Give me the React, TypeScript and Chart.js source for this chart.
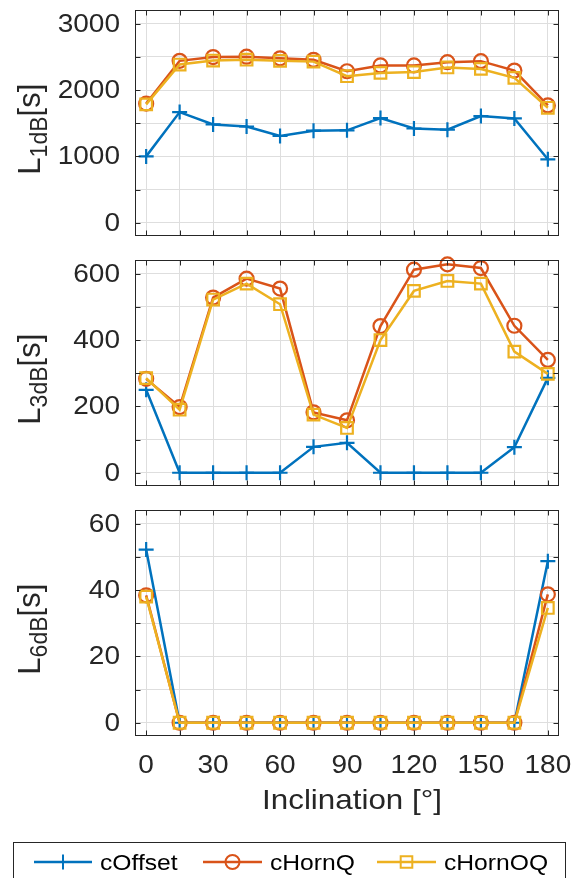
import React, { useEffect, useRef } from 'react';
import { Chart, registerables } from 'chart.js';

Chart.register(...registerables);

// Inclination angles (degrees) shared by all three panels
const inclination = [0, 15, 30, 45, 60, 75, 90, 105, 120, 135, 150, 165, 180];
const xTickLabels = [0, 30, 60, 90, 120, 150, 180];
const seriesNames = ['cOffset', 'cHornQ', 'cHornOQ'];

// L_1dB [s]
const l1dbOffset = [1000, 1667, 1482, 1450, 1307, 1387, 1392, 1577, 1420, 1402, 1607, 1572, 956];
const l1dbHornQ = [1795, 2440, 2497, 2502, 2478, 2455, 2283, 2370, 2370, 2420, 2435, 2293, 1768];
const l1dbHornOQ = [1783, 2384, 2444, 2457, 2440, 2428, 2208, 2258, 2270, 2340, 2318, 2183, 1732];
const l1dbTicks = [0, 1000, 2000, 3000];

// L_3dB [s]
const l3dbOffset = [250, 0, 0, 0, 0, 78, 90, 0, 0, 0, 0, 77, 286];
const l3dbHornQ = [283, 198, 528, 585, 555, 182, 158, 442, 612, 628, 617, 443, 340];
const l3dbHornOQ = [285, 190, 522, 570, 508, 175, 135, 400, 548, 578, 570, 365, 298];
const l3dbTicks = [0, 200, 400, 600];

// L_6dB [s]
const l6dbOffset = [52.2, 0, 0, 0, 0, 0, 0, 0, 0, 0, 0, 0, 48.7];
const l6dbHornQ = [38.4, 0, 0, 0, 0, 0, 0, 0, 0, 0, 0, 0, 38.7];
const l6dbHornOQ = [38.0, 0, 0, 0, 0, 0, 0, 0, 0, 0, 0, 0, 34.6];
const l6dbTicks = [0, 20, 40, 60];

const COLORS = ['#0072BD', '#D95319', '#EDB120'];
const AXIS = '#262626';
const GRID = '#dedede';
const FONT = '"Liberation Sans", Arial, Helvetica, sans-serif';
const SX = 1.12; // horizontal text stretch

type PanelDef = {
  top: number;
  height: number;
  series: number[][];
  min: number;
  max: number;
  step: number;
  labels: number[];
  sub: string;
  bottom: boolean;
};

const panels: PanelDef[] = [
  { top: 0, height: 250, series: [l1dbOffset, l1dbHornQ, l1dbHornOQ], min: -200, max: 3200, step: 500, labels: l1dbTicks, sub: '1dB', bottom: false },
  { top: 250, height: 250, series: [l3dbOffset, l3dbHornQ, l3dbHornOQ], min: -40, max: 640, step: 100, labels: l3dbTicks, sub: '3dB', bottom: false },
  { top: 500, height: 378, series: [l6dbOffset, l6dbHornQ, l6dbHornOQ], min: -4, max: 64, step: 10, labels: l6dbTicks, sub: '6dB', bottom: true },
];

const AREA_TOP = 8;
const AREA_H = 228;

// tick positions between 0 and the highest labelled value
function tickValues(last: number, step: number) {
  const out: { value: number }[] = [];
  for (let k = 0; k * step <= last + 1e-9; k++) out.push({ value: k * step });
  return out;
}

function text(ctx: CanvasRenderingContext2D, s: string, x: number, y: number, align: CanvasTextAlign, baseline: CanvasTextBaseline) {
  ctx.save();
  ctx.translate(x, y);
  ctx.scale(SX, 1);
  ctx.textAlign = align;
  ctx.textBaseline = baseline;
  ctx.fillText(s, 0, 0);
  ctx.restore();
}

function drawMarker(ctx: CanvasRenderingContext2D, kind: number, x: number, y: number) {
  ctx.beginPath();
  if (kind === 0) {
    ctx.moveTo(x - 7.5, y); ctx.lineTo(x + 7.5, y);
    ctx.moveTo(x, y - 7.5); ctx.lineTo(x, y + 7.5);
  } else if (kind === 1) {
    ctx.arc(x, y, 7, 0, Math.PI * 2);
  } else {
    ctx.rect(x - 5.8, y - 5.8, 11.6, 11.6);
  }
  ctx.stroke();
}

function makePlugin(p: PanelDef) {
  return {
    id: 'frame-' + p.sub,
    afterDraw(chart: any) {
      const { ctx, chartArea: a, scales } = chart;
      const xs = scales.x;
      const ys = scales.y;
      ctx.save();
      // axes box
      ctx.strokeStyle = AXIS;
      ctx.lineWidth = 1;
      const L = Math.round(a.left) + 0.5;
      const R = Math.round(a.right) - 0.5;
      const T = Math.round(a.top) + 0.5;
      const B = Math.round(a.bottom) - 0.5;
      ctx.strokeRect(L, T, R - L, B - T);
      // inward tick marks on all four sides
      ctx.beginPath();
      xs.ticks.forEach((t: any) => {
        const px = Math.round(xs.getPixelForValue(t.value)) + 0.5;
        ctx.moveTo(px, B); ctx.lineTo(px, B - 5);
        ctx.moveTo(px, T); ctx.lineTo(px, T + 5);
      });
      ys.ticks.forEach((t: any) => {
        const py = Math.round(ys.getPixelForValue(t.value)) + 0.5;
        ctx.moveTo(L, py); ctx.lineTo(L + 5, py);
        ctx.moveTo(R, py); ctx.lineTo(R - 5, py);
      });
      ctx.stroke();

      // tick labels
      ctx.fillStyle = AXIS;
      ctx.font = `25px ${FONT}`;
      ys.ticks.forEach((t: any) => {
        if (p.labels.includes(t.value)) {
          text(ctx, String(t.value), a.left - 15, ys.getPixelForValue(t.value) + 1, 'right', 'middle');
        }
      });
      if (p.bottom) {
        xs.ticks.forEach((t: any) => {
          if (xTickLabels.includes(t.value)) {
            text(ctx, String(t.value), xs.getPixelForValue(t.value), a.bottom + 37, 'center', 'alphabetic');
          }
        });
      }

      // y-axis label with subscript: L_{xdB}[s]
      const big = 31;
      const small = 23;
      ctx.textBaseline = 'alphabetic';
      ctx.textAlign = 'left';
      ctx.font = `${big}px ${FONT}`;
      const wL = ctx.measureText('L').width;
      const wS = ctx.measureText('[s]').width;
      ctx.font = `${small}px ${FONT}`;
      const wSub = ctx.measureText(p.sub).width;
      const total = wL + wSub + wS;
      ctx.save();
      ctx.translate(40, (a.top + a.bottom) / 2 + 6);
      ctx.rotate(-Math.PI / 2);
      let cx = -total / 2;
      ctx.font = `${big}px ${FONT}`;
      ctx.fillText('L', cx, 0);
      cx += wL;
      ctx.font = `${small}px ${FONT}`;
      ctx.fillText(p.sub, cx, 7);
      cx += wSub;
      ctx.font = `${big}px ${FONT}`;
      ctx.fillText('[s]', cx, 0);
      ctx.restore();

      if (p.bottom) {
        // x-axis title
        ctx.fillStyle = AXIS;
        ctx.font = `28px ${FONT}`;
        text(ctx, 'Inclination [°]', (a.left + a.right) / 2 + 5, 309, 'center', 'alphabetic');

        // legend box below the last panel
        const ly = 362;
        ctx.strokeStyle = AXIS;
        ctx.lineWidth = 1;
        ctx.strokeRect(13.5, 342.5, 552, 60);
        const entries = [
          { x0: 34, x1: 92, tx: 100 },
          { x0: 203, x1: 262, tx: 270 },
          { x0: 377, x1: 436, tx: 444 },
        ];
        ctx.font = `22px ${FONT}`;
        entries.forEach((e, i) => {
          ctx.strokeStyle = COLORS[i];
          ctx.lineWidth = 2.5;
          ctx.beginPath();
          ctx.moveTo(e.x0, ly); ctx.lineTo(e.x1, ly);
          ctx.stroke();
          ctx.lineWidth = 2;
          drawMarker(ctx, i, (e.x0 + e.x1) / 2, ly);
          ctx.fillStyle = '#000';
          text(ctx, seriesNames[i], e.tx, ly + 8, 'left', 'alphabetic');
        });
      }
      ctx.restore();
    },
  };
}

function buildConfig(p: PanelDef): any {
  const styles = [
    { pointStyle: 'cross', pointRadius: 7.5, order: 3 },
    { pointStyle: 'circle', pointRadius: 7, order: 2 },
    { pointStyle: 'rect', pointRadius: 8.2, order: 1 },
  ];
  const datasets = p.series.map((vals, i) => ({
    label: seriesNames[i],
    data: inclination.map((x, k) => ({ x, y: vals[k] })),
    borderColor: COLORS[i],
    backgroundColor: COLORS[i],
    pointBackgroundColor: 'rgba(0,0,0,0)',
    pointBorderColor: COLORS[i],
    borderWidth: 2.5,
    pointBorderWidth: 2.2,
    pointStyle: styles[i].pointStyle,
    pointRadius: styles[i].pointRadius,
    order: styles[i].order,
    tension: 0,
    clip: false,
  }));
  const xHeight = p.height - AREA_TOP - AREA_H;
  const lastLabel = p.labels[p.labels.length - 1];
  return {
    type: 'line',
    data: { datasets },
    options: {
      responsive: false,
      animation: false,
      devicePixelRatio: 1,
      layout: { padding: { left: 0, right: 18, top: AREA_TOP, bottom: 0 } },
      plugins: { legend: { display: false }, tooltip: { enabled: false }, title: { display: false } },
      scales: {
        x: {
          type: 'linear',
          min: -5,
          max: 185,
          afterBuildTicks: (s: any) => { s.ticks = tickValues(180, 15); },
          afterFit: (s: any) => {
            s.height = xHeight;
            s.paddingLeft = 0; s.paddingRight = 0; s.paddingTop = 0; s.paddingBottom = 0;
          },
          border: { display: false },
          grid: { color: GRID, lineWidth: 1, drawTicks: false },
          ticks: { display: false, autoSkip: false, maxRotation: 0 },
        },
        y: {
          type: 'linear',
          min: p.min,
          max: p.max,
          afterBuildTicks: (s: any) => { s.ticks = tickValues(lastLabel, p.step); },
          afterFit: (s: any) => {
            s.width = 135;
            s.paddingLeft = 0; s.paddingRight = 0; s.paddingTop = 0; s.paddingBottom = 0;
          },
          border: { display: false },
          grid: { color: GRID, lineWidth: 1, drawTicks: false },
          ticks: { display: false, autoSkip: false },
        },
      },
    },
    plugins: [makePlugin(p)],
  };
}

export default function App() {
  const r0 = useRef<HTMLCanvasElement>(null);
  const r1 = useRef<HTMLCanvasElement>(null);
  const r2 = useRef<HTMLCanvasElement>(null);
  const refs = [r0, r1, r2];

  useEffect(() => {
    const charts = panels.map((p, i) => new Chart(refs[i].current as HTMLCanvasElement, buildConfig(p)));
    return () => charts.forEach((c) => c.destroy());
  }, []);

  return (
    <div style={{ position: 'absolute', left: 0, top: 0, width: 577, height: 878, background: '#fff', overflow: 'hidden' }}>
      {panels.map((p, i) => (
        <canvas
          key={p.sub}
          ref={refs[i]}
          width={577}
          height={p.height}
          style={{ position: 'absolute', left: 0, top: p.top, width: 577, height: p.height, display: 'block' }}
        />
      ))}
    </div>
  );
}
